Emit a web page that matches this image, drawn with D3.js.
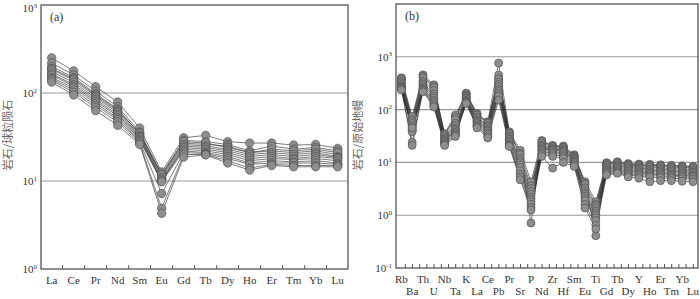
<!DOCTYPE html>
<html>
<head>
<meta charset="utf-8">
<script src="https://cdn.jsdelivr.net/npm/d3@7"></script>
<style>
  body { margin: 0; background: #fff; }
  svg { display: block; }
  text { font-family: "Liberation Serif", "Times New Roman", serif; fill: #333; }
  .cjk { font-family: "Noto Sans CJK SC", sans-serif; fill: #666; }
</style>
</head>
<body>
<svg width="700" height="299"></svg>
<script>
// REE elements (chondrite normalised)
const reeElements = ["La","Ce","Pr","Nd","Sm","Eu","Gd","Tb","Dy","Ho","Er","Tm","Yb","Lu"];
const reeSamples = [
  [251,178,118,79,40,12.7,31,33,28,27,27,25.6,26,23.5],
  [220,160,105,70,36,12,29,28,26,22,25,23,24,22],
  [200,150,98,66,34,11.5,27,26,25,21,22,21,22,20],
  [190,145,95,64,35,11.8,28,27,24,21,23,22,23,21],
  [185,140,92,62,33,11,26,25,23,20,21,20,21,19],
  [175,132,88,60,32,10.5,25,24,22,19,20,19,20,18.5],
  [165,125,84,57,31,10,24,23,21,18,19,18,19,18],
  [160,120,80,55,30,10.2,23,22,20,17,18,17.5,18,17],
  [150,115,76,52,29,9.8,22,21,19,16,17,16.5,17,16],
  [145,108,72,50,28,7.2,21,20.5,18,15.5,16,16,16,15.5],
  [140,102,68,47,27,4.9,20,20,17,14,15.5,15,15,15],
  [133,95,63,43,26,4.3,18.7,19.8,16,13.3,15,14.5,14.5,14.5]
];

// trace elements (primitive mantle normalised)
const spiderElements = ["Rb","Ba","Th","U","Nb","Ta","K","La","Ce","Pb","Pr","Sr","P","Nd",
  "Zr","Hf","Sm","Eu","Ti","Gd","Tb","Dy","Y","Ho","Er","Tm","Yb","Lu"];
const spiderSamples = [
  [400,74,455,295,35,79,205,85,59,760,38,17,4.3,26,21,20.5,14,4.3,1.8,9.9,10.3,9.5,9.3,9.2,9.0,8.8,8.6,8.4],
  [380,65,430,280,34,72,200,80,57,400,36,15,0.71,25,20.5,19.5,13.5,4.0,0.41,9.6,10,9.2,9,8.8,8.7,8.5,8.3,8.1],
  [370,60,400,260,32,65,190,78,55,450,35,14,3.6,23,20,19,13,3.8,1.6,9.3,9.6,8.9,8.7,8.5,8.4,8.1,8.0,7.8],
  [340,55,350,230,30,55,180,72,50,380,32,12,3.2,21,19,18,12.5,3.3,1.5,8.8,9.0,8.4,8.2,8.0,7.9,7.6,7.5,7.3],
  [320,50,320,200,28,50,170,68,47,330,30,11,2.8,20,18,17,12,3.0,1.35,8.3,8.6,8.0,7.8,7.5,7.4,7.2,7.0,6.9],
  [300,46,300,180,27,45,165,63,44,300,28,10,2.5,19,17.5,16.5,11.5,2.7,1.2,7.9,8.2,7.6,7.4,7.1,7.0,6.8,6.7,6.5],
  [280,42,280,165,26,42,160,60,41,270,27,9,2.2,18,17,16,11,2.5,1.1,7.5,7.8,7.2,7.0,6.7,6.6,6.4,6.3,6.2],
  [270,40,260,150,25,40,150,57,39,240,25,8,2.0,17,16,15,10.5,2.3,1.0,7.1,7.4,6.8,6.6,6.3,6.2,6.0,5.9,5.8],
  [260,38,250,140,24,37,145,54,36,220,24,7,1.8,16,15,14,10,2.1,0.9,6.8,7.0,6.4,6.2,6.0,5.9,5.7,5.6,5.5],
  [250,24,240,130,23,35,140,50,34,200,22,6,1.6,15,14,13,9.5,1.9,0.8,6.5,6.7,6.0,5.9,5.6,5.5,5.4,5.3,5.2],
  [245,21,230,120,22,33,135,48,31,180,21,5.3,1.4,14,13,12,9,1.6,0.65,6.2,6.4,5.7,5.5,5.2,5.1,5.0,4.9,4.8],
  [235,45,218,112,21,31,131,45,29,152,20,4.7,1.26,13,7.8,10,8.4,1.37,0.55,5.8,6.2,5.3,5.0,4.3,4.5,4.5,4.4,4.3]
];

const reeLabelExps = [0, 1, 2, 3];
const spiderLabelExps = [-1, 0, 1, 2, 3];

const svg = d3.select("svg");

function drawPanel(opt) {
  const g = svg.append("g");
  const x = d3.scalePoint().domain(opt.elements).range(opt.pointRange);
  const y = d3.scaleLog().domain(opt.yDomain).range([opt.bottom, opt.top]);
  const exps = d3.range(Math.log10(opt.yDomain[0]), Math.log10(opt.yDomain[1]) + 1);

  // grid lines
  g.selectAll(".grid").data(exps.slice(1, -1)).enter().append("line")
    .attr("x1", opt.left).attr("x2", opt.right)
    .attr("y1", d => y(Math.pow(10, d))).attr("y2", d => y(Math.pow(10, d)))
    .attr("stroke", "#999").attr("stroke-width", 1.1);

  // y tick labels 10^n (top one nudged down so it is not clipped)
  const lab = g.selectAll(".ylab").data(opt.labelExps).enter().append("text")
    .attr("x", opt.left - 4).attr("y", d => Math.max(y(Math.pow(10, d)) + 4, 12))
    .attr("text-anchor", "end").style("font-size", "11px");
  lab.append("tspan").text("10");
  lab.append("tspan").attr("dy", -4.5).style("font-size", "7px").text(d => d);

  // bottom ticks
  g.selectAll(".xt").data(opt.ticks).enter().append("line")
    .attr("x1", d => d).attr("x2", d => d)
    .attr("y1", opt.bottom).attr("y2", opt.bottom - 4)
    .attr("stroke", "#555").attr("stroke-width", 1);

  // element labels
  g.selectAll(".xl").data(opt.elements).enter().append("text")
    .attr("x", d => x(d))
    .attr("y", (d, i) => opt.twoRows && i % 2 === 1 ? opt.bottom + 27 : opt.bottom + 15)
    .attr("text-anchor", "middle").style("font-size", "11px")
    .text(d => d);

  // lines
  const line = d3.line().x((d, i) => x(opt.elements[i])).y(d => y(d));
  g.selectAll(".ln").data(opt.samples).enter().append("path")
    .attr("d", line).attr("fill", "none")
    .attr("stroke", "#222").attr("stroke-width", 0.7).attr("stroke-opacity", 0.85);

  // markers
  opt.samples.forEach(s => {
    g.selectAll(null).data(s).enter().append("circle")
      .attr("cx", (d, i) => x(opt.elements[i])).attr("cy", d => y(d))
      .attr("r", opt.r).attr("fill", "#8e8e8e")
      .attr("stroke", "#444").attr("stroke-width", 0.6);
  });

  // frame
  g.append("rect")
    .attr("x", opt.left).attr("y", opt.top)
    .attr("width", opt.right - opt.left).attr("height", opt.bottom - opt.top)
    .attr("fill", "none").attr("stroke", "#555").attr("stroke-width", 1.3);

  g.append("text").attr("x", opt.left + 9).attr("y", opt.top + 16)
    .style("font-size", "12px").text(opt.tag);

  g.append("text").attr("class", "cjk")
    .attr("transform", `translate(${opt.titleX},${opt.titleY}) rotate(-90)`)
    .attr("text-anchor", "middle").style("font-size", "11px")
    .text(opt.title);
}

const xa = d3.scalePoint().domain(reeElements).range([51.7, 337.7]);
drawPanel({
  elements: reeElements, samples: reeSamples, yDomain: [1, 1000], labelExps: reeLabelExps,
  left: 41, right: 348, top: 5, bottom: 269, pointRange: [51.7, 337.7],
  ticks: d3.range(reeElements.length - 1).map(i => (xa(reeElements[i]) + xa(reeElements[i + 1])) / 2),
  twoRows: false, r: 4.2, tag: "(a)", title: "岩石/球粒陨石", titleX: 12, titleY: 135
});

const bStep = (693 - 401.4) / (spiderElements.length - 1);
drawPanel({
  elements: spiderElements, samples: spiderSamples, yDomain: [0.1, 10000], labelExps: spiderLabelExps,
  left: 396, right: 698, top: 4, bottom: 268, pointRange: [401.4, 693],
  ticks: d3.range(41).map(k => 401.4 + bStep * (0.36 + k * 2 / 3)),
  twoRows: true, r: 4, tag: "(b)", title: "岩石/原始地幔", titleX: 362, titleY: 135
});
</script>
</body>
</html>
